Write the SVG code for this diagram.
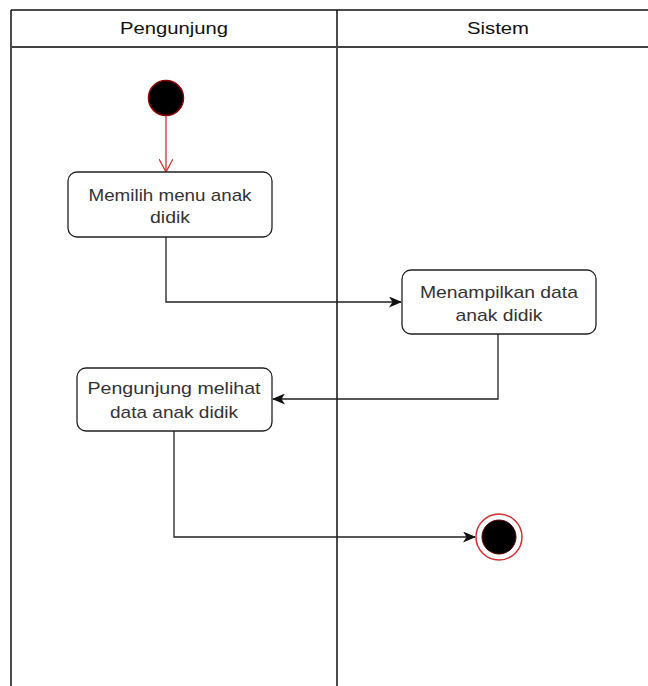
<svg xmlns="http://www.w3.org/2000/svg" width="648" height="686" viewBox="0 0 648 686">
<style>
.lane{stroke:#111;stroke-width:1.5;fill:none}
.box{fill:#fff;stroke:#222;stroke-width:1.3}
.t{font-family:"Liberation Sans",Arial,sans-serif;font-size:17px;fill:#333;text-anchor:middle}
.h{font-family:"Liberation Sans",Arial,sans-serif;font-size:17px;fill:#111;text-anchor:middle}
.c{stroke:#222;stroke-width:1.3;fill:none}
</style>
<defs>
<marker id="ah" viewBox="0 0 13 11" refX="12" refY="5.5" markerWidth="13" markerHeight="11" markerUnits="userSpaceOnUse" orient="auto">
<path d="M0,0 L13,5.5 L0,11 L3.5,5.5 Z" fill="#111"/>
</marker>
<marker id="ahr" viewBox="0 0 14 14" refX="13" refY="7" markerWidth="14" markerHeight="14" markerUnits="userSpaceOnUse" orient="auto">
<path d="M0,0 L13,7 L0,14" fill="none" stroke="#d03030" stroke-width="1.3"/>
</marker>
</defs>
<rect width="648" height="686" fill="#fff"/>
<g id="lanes">
<line class="lane" x1="11" y1="10" x2="648" y2="10"/>
<line class="lane" x1="11" y1="10" x2="11" y2="686"/>
<line class="lane" x1="337" y1="10" x2="337" y2="686"/>
<line x1="11" y1="47" x2="648" y2="47" stroke="#444" stroke-width="2"/>
<text class="h" x="174" y="34" textLength="108" lengthAdjust="spacingAndGlyphs">Pengunjung</text>
<text class="h" x="498" y="34" textLength="62" lengthAdjust="spacingAndGlyphs">Sistem</text>
</g>
<g id="connectors">
<line x1="166" y1="116" x2="166" y2="172" stroke="#d03030" stroke-width="1.3" marker-end="url(#ahr)"/>
<polyline class="c" points="166,237 166,302 401,302" marker-end="url(#ah)"/>
<polyline class="c" points="498,334 498,399 273,399" marker-end="url(#ah)"/>
<polyline class="c" points="174,431 174,537 475,537" marker-end="url(#ah)"/>
</g>
<g id="start">
<circle cx="166" cy="98" r="17.5" fill="#000" stroke="#8a0000" stroke-width="1.5"/>
</g>
<g id="n1">
<rect class="box" x="68" y="172" width="204" height="65" rx="9"/>
<text class="t" x="170" y="201" textLength="163" lengthAdjust="spacingAndGlyphs">Memilih menu anak</text>
<text class="t" x="170" y="223" textLength="40" lengthAdjust="spacingAndGlyphs">didik</text>
</g>
<g id="n2">
<rect class="box" x="402" y="270" width="194" height="64" rx="9"/>
<text class="t" x="499" y="298" textLength="158" lengthAdjust="spacingAndGlyphs">Menampilkan data</text>
<text class="t" x="499" y="321" textLength="87" lengthAdjust="spacingAndGlyphs">anak didik</text>
</g>
<g id="n3">
<rect class="box" x="77" y="368" width="195" height="63" rx="9"/>
<text class="t" x="174" y="394" textLength="173" lengthAdjust="spacingAndGlyphs">Pengunjung melihat</text>
<text class="t" x="174" y="418" textLength="128" lengthAdjust="spacingAndGlyphs">data anak didik</text>
</g>
<g id="end">
<circle cx="499" cy="537" r="23" fill="#fff" stroke="#d03030" stroke-width="1.5"/>
<circle cx="499" cy="537" r="17" fill="#000" stroke="#5a0000" stroke-width="1"/>
</g>
</svg>
